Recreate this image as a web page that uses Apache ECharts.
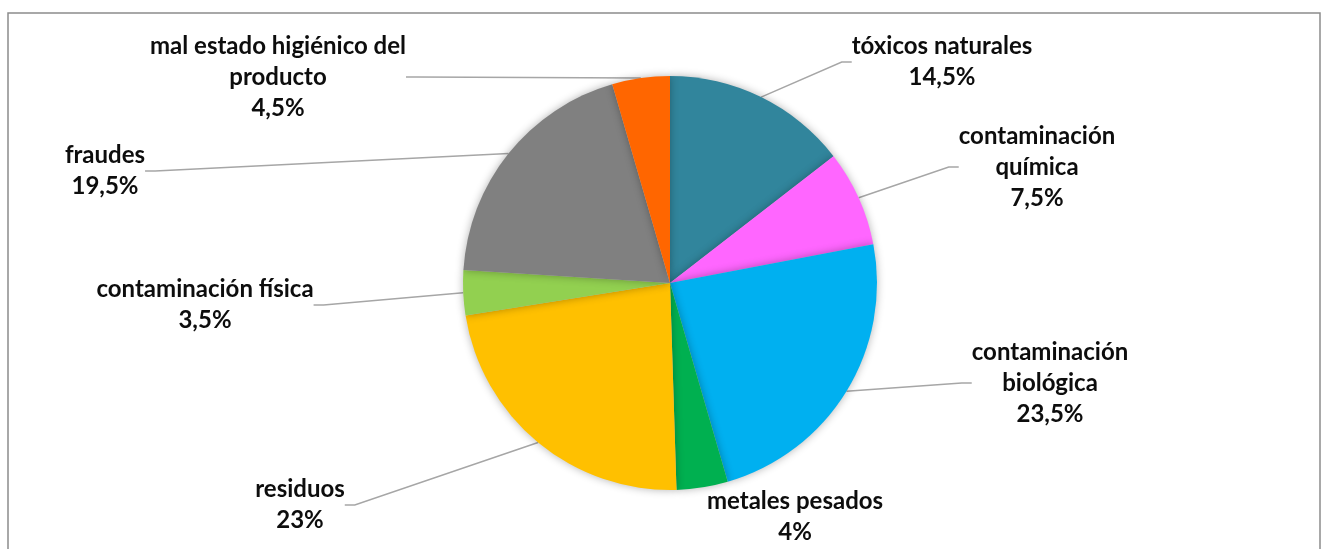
<!DOCTYPE html>
<html>
<head>
<meta charset="utf-8">
<script src="https://cdn.jsdelivr.net/npm/echarts@6/dist/echarts.min.js"></script>
<style>html,body{margin:0;padding:0;background:#fff;}#c{width:1322px;height:549px;}</style>
</head>
<body>
<div id="c"></div>
<script>
const categories = ["tóxicos naturales", "contaminación\nquímica", "contaminación\nbiológica", "metales pesados", "residuos", "contaminación física", "fraudes", "mal estado higiénico del\nproducto"];
const values = [14.5, 7.5, 23.5, 4, 23, 3.5, 19.5, 4.5];
const colors = ["#31859C", "#FF66FF", "#00B0F0", "#00B050", "#FFC000", "#92D050", "#808080", "#FF6600"];
const labelPos = [[942, 62], [1037, 167], [1050, 383], [795, 517], [300, 505], [205, 305], [105, 171], [278, 77]];

const chart = echarts.init(document.getElementById('c'));
chart.setOption({
  animation: false,
  graphic: [{
    type: 'rect', shape: {x: 8, y: 13, width: 1312, height: 560},
    style: {fill: 'none', stroke: '#8C8C8C', lineWidth: 1.5}, z: -1
  }],
  series: [{
    type: 'pie',
    center: [670, 283],
    radius: 207,
    startAngle: 90,
    clockwise: true,
    data: categories.map((n, i) => ({
      name: n, value: values[i], itemStyle: {color: colors[i]},
      labelLine: i === 3 ? {show: false} : undefined
    })),
    itemStyle: {shadowBlur: 8, shadowColor: 'rgba(0,0,0,0.3)', borderWidth: 0},
    label: {
      show: true,
      formatter: p => p.name + '\n' + String(p.value).replace('.', ',') + '%',
      fontFamily: 'Lato',
      fontWeight: 'bold',
      fontSize: 24,
      lineHeight: 31,
      color: '#0D0D0D',
      align: 'center'
    },
    labelLine: {show: true, length: 20, length2: 10, lineStyle: {color: '#A6A6A6', width: 1.5}},
    labelLayout: function (params) {
      const p = labelPos[params.dataIndex];
      return {x: p[0], y: p[1], align: 'center', verticalAlign: 'middle'};
    }
  }]
});
</script>
</body>
</html>
